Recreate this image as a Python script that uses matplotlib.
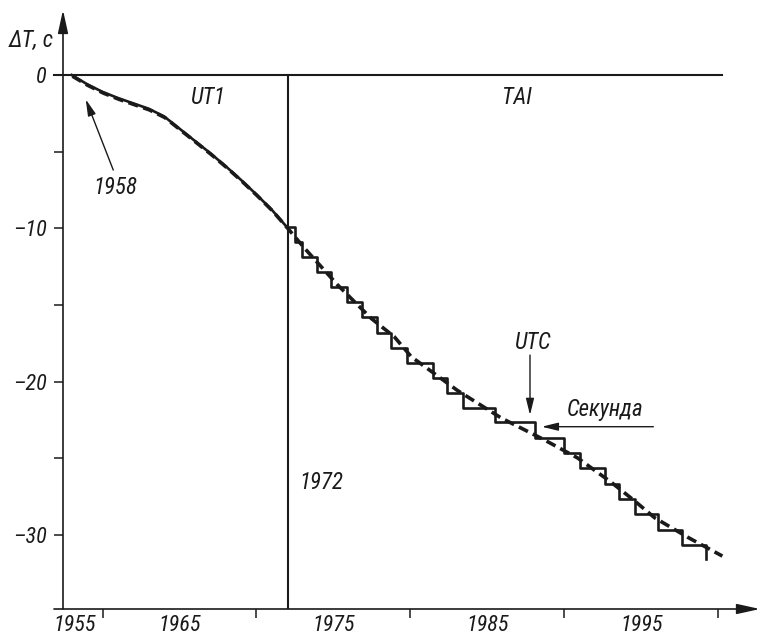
import matplotlib
matplotlib.use("Agg")
import matplotlib.pyplot as plt
from matplotlib import transforms

plt.rcParams['font.family'] = ['Roboto Condensed', 'Liberation Sans', 'DejaVu Sans']
plt.rcParams['font.style'] = 'italic'

# ---- data ----
# smooth curve UT1 (solid before 1972, dashed everywhere)
ut1_years = [1958.0, 1959.0, 1960.0, 1961.0, 1962.0, 1963.0, 1964.0, 1965.0,
             1966.0, 1967.0, 1968.0, 1969.0, 1970.0, 1971.0, 1972.0]
ut1_values = [0.0, -0.6, -1.1, -1.5, -1.85, -2.2, -2.7, -3.5,
              -4.3, -5.1, -5.95, -6.85, -7.8, -8.8, -9.95]
# dashed continuation after 1972
dash_years = [1973.05, 1975.2, 1977.4, 1978.9, 1980.0, 1983.0, 1985.85,
              1988.6, 1990.8, 1993.0, 1994.5, 1995.8, 1998.0, 2000.2]
dash_values = [-11.2, -13.6, -15.8, -17.0, -18.3, -20.5, -22.3,
               -23.7, -24.9, -26.5, -27.7, -28.8, -30.1, -31.3]
# UTC staircase (leap seconds)
step_years = [1972.05, 1972.5, 1972.95, 1973.9, 1974.85, 1975.9, 1976.85, 1977.8,
              1978.75, 1979.8, 1981.45, 1982.4, 1983.4, 1985.5, 1988.1, 1990.0,
              1991.0, 1992.6, 1993.55, 1994.6, 1996.1, 1997.6, 1999.2]
step_values = [-9.9, -10.9, -11.85, -12.85, -13.85, -14.8, -15.8, -16.8,
               -17.8, -18.8, -19.75, -20.75, -21.7, -22.65, -23.65, -24.65,
               -25.65, -26.65, -27.65, -28.65, -29.65, -30.65, -31.6]

x_tick_years = [1960, 1970, 1980, 1990, 2000]
x_label_years = [1955, 1965, 1975, 1985, 1995]
y_ticks = [0, -5, -10, -15, -20, -25, -30]
y_label_values = [0, -10, -20, -30]
y_label_texts = ['0', '–10', '–20', '–30']

# ---- figure ----
W, H = 762, 639
fig = plt.figure(figsize=(W / 100, H / 100), dpi=100)
x0, x1 = 1957.435, 2002.695
y0, y1 = -34.83, 4.24
ax = fig.add_axes([63 / W, 1 - 609 / H, (760 - 63) / W, (609 - 10) / H])
ax.set_xlim(x0, x1)
ax.set_ylim(y0, y1)
for s in ax.spines.values():
    s.set_visible(False)

tc = '#1a1a1a'
fs = 16.5
lw_axis = 1.2
# axes with arrows
ax.annotate('', xy=(x1, y0), xytext=(1956.85, y0), annotation_clip=False,
            arrowprops=dict(arrowstyle='-|>,head_length=1.0,head_width=0.22',
                            mutation_scale=14, lw=lw_axis, color=tc,
                            shrinkA=0, shrinkB=0))
ax.annotate('', xy=(x0, y1), xytext=(x0, y0), annotation_clip=False,
            arrowprops=dict(arrowstyle='-|>,head_length=1.0,head_width=0.22',
                            mutation_scale=14, lw=lw_axis, color=tc,
                            shrinkA=0, shrinkB=0))

# ticks
ax.set_xticks(x_tick_years)
ax.set_xticklabels([])
ax.tick_params(axis='x', which='major', direction='out', length=6.5, width=1.1,
               color=tc)
lab_pos = [x0 + 0.78] + x_label_years[1:]
ax.set_xticks(lab_pos, minor=True)
ax.set_xticklabels([str(v) for v in x_label_years], minor=True)
ax.tick_params(axis='x', which='minor', length=0, pad=4, labelsize=fs - 0.5,
               labelcolor=tc)
ax.set_yticks(y_ticks)
ax.set_yticklabels([y_label_texts[y_label_values.index(v)] if v in y_label_values else ''
                    for v in y_ticks])
ax.tick_params(axis='y', direction='out', length=6.5, width=1.1, pad=5,
               labelsize=fs - 0.5, color=tc, labelcolor=tc)

# reference lines
ax.plot([1956.85, 2000.2], [0, 0], color=tc, lw=1.5, clip_on=False)
ax.plot([1972.05, 1972.05], [0, y0], color=tc, lw=1.5)

# curves
off = transforms.offset_copy(ax.transData, fig=fig, x=0.8, y=-1.2, units='dots')
ax.plot(ut1_years + dash_years, ut1_values + dash_values, color=tc,
        lw=2.6, linestyle=(0, (2.8, 1.5)), solid_capstyle='butt',
        dash_capstyle='butt', transform=off)
ax.plot(ut1_years, ut1_values, color=tc, lw=1.9)
ax.step(step_years, step_values, where='post', color=tc, lw=1.9)

# texts
ax.text(1955.36, 2.22, 'ΔT, c', fontsize=fs, ha='center', va='center', color=tc,
        clip_on=False)
ax.text(1966.79, -1.44, 'UT1', fontsize=fs, ha='center', va='center', color=tc)
ax.text(1986.92, -1.44, 'TAI', fontsize=fs, ha='center', va='center', color=tc)
ax.text(1974.19, -26.61, '1972', fontsize=fs, ha='center', va='center', color=tc)
ax.text(1960.81, -7.37, '1958', fontsize=fs, ha='center', va='center', color=tc)
ax.text(1987.89, -17.42, 'UTC', fontsize=fs, ha='center', va='center', color=tc)
ax.text(1992.63, -21.85, 'Секунда', fontsize=fs, ha='center', va='center', color=tc)

ap = dict(arrowstyle='-|>,head_length=0.9,head_width=0.22', mutation_scale=11,
          lw=1.0, color=tc, shrinkA=0, shrinkB=0)
ax.annotate('', xy=(1958.91, -1.585), xytext=(1960.70, -6.20), arrowprops=ap)
ax.annotate('', xy=(1987.76, -22.18), xytext=(1987.76, -18.27), arrowprops=ap)
ax.annotate('', xy=(1988.52, -22.94), xytext=(1995.77, -22.94), arrowprops=ap)

fig.savefig('out.png', dpi=100)
